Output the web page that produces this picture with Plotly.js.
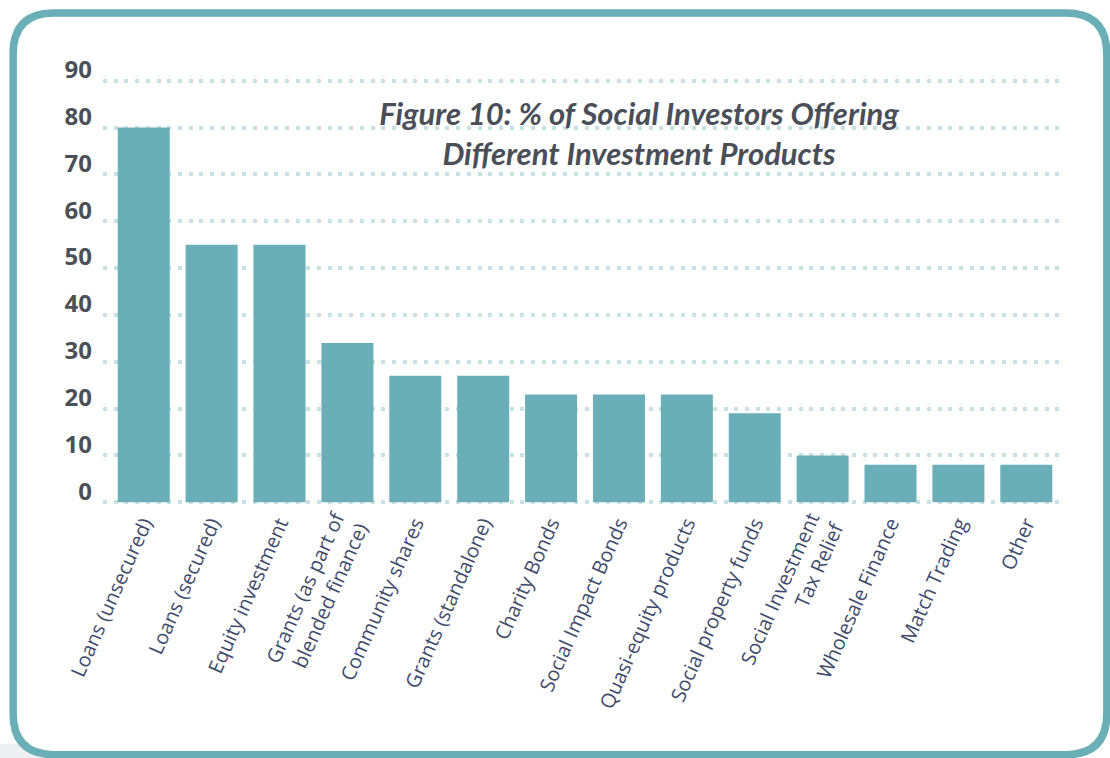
<!DOCTYPE html>
<html>
<head>
<meta charset="utf-8">
<script src="https://cdn.plot.ly/plotly-3.0.1.min.js"></script>
<style>
  html, body { margin: 0; padding: 0; background: #ffffff; }
  #chart { width: 1110px; height: 758px; }
</style>
</head>
<body>
<div id="chart"></div>
<script>
// ---- data ----
const categories = [
  "Loans (unsecured)",
  "Loans (secured)",
  "Equity investment",
  "Grants (as part of<br>blended finance)",
  "Community shares",
  "Grants (standalone)",
  "Charity Bonds",
  "Social Impact Bonds",
  "Quasi-equity products",
  "Social property funds",
  "Social Investment<br>Tax Relief",
  "Wholesale Finance",
  "Match Trading",
  "Other"
];
const percentOffering = [80, 55, 55, 34, 27, 27, 23, 23, 23, 19, 10, 8, 8, 8];
const yTickValues = [0, 10, 20, 30, 40, 50, 60, 70, 80, 90];
const titleText = "Figure 10: % of Social Investors Offering<br>Different Investment Products";

// ---- layout geometry (pixels) ----
const W = 1110, H = 758;
const M = { l: 103.3, r: 45.3, t: 76.3, b: 251.3 };
const PW = W - M.l - M.r, PH = H - M.t - M.b;
function px(x) { return ((x - M.l) / PW).toFixed(5); }
function py(y) { return (1 - (y - M.t) / PH).toFixed(5); }
function pt(x, y) { return px(x) + "," + py(y); }

// rounded card border
const x1 = 13.5, y1 = 13.5, x2 = 1106.5, y2 = 754, r = 41;
const borderPath =
  "M" + pt(x1 + r, y1) +
  " L" + pt(x2 - r, y1) +
  " Q" + pt(x2, y1) + " " + pt(x2, y1 + r) +
  " L" + pt(x2, y2 - r) +
  " Q" + pt(x2, y2) + " " + pt(x2 - r, y2) +
  " L" + pt(x1 + r, y2) +
  " Q" + pt(x1, y2) + " " + pt(x1, y2 - r) +
  " L" + pt(x1, y1 + r) +
  " Q" + pt(x1, y1) + " " + pt(x1 + r, y1) + " Z";

const trace = {
  type: "bar",
  x: categories,
  y: percentOffering,
  marker: { color: "#6aafb7", line: { width: 0 } },
  hoverinfo: "x+y"
};

const layout = {
  width: W,
  height: H,
  margin: M,
  paper_bgcolor: "#ffffff",
  plot_bgcolor: "rgba(0,0,0,0)",
  showlegend: false,
  bargap: 0.234,
  title: {
    text: titleText,
    font: { family: "Lato, 'Open Sans', sans-serif", size: 31, color: "#4a4e57", weight: 700, style: "italic" },
    x: 639 / W,
    xref: "container",
    xanchor: "center",
    y: 1 - 125 / H,
    yref: "container",
    yanchor: "middle"
  },
  xaxis: {
    type: "category",
    range: [-0.6, 13.57],
    showgrid: false,
    showline: false,
    zeroline: false,
    ticks: "",
    tickangle: -66,
    tickfont: { family: "'Open Sans', sans-serif", size: 20, color: "#3f4b6b" },
    fixedrange: true
  },
  yaxis: {
    range: [-1, 91],
    tickvals: yTickValues,
    ticktext: yTickValues.map(String),
    showgrid: true,
    gridcolor: "#c8e1e4",
    gridwidth: 4,
    griddash: "4px,6.7px",
    zeroline: false,
    showline: false,
    ticks: "",
    ticklabelstandoff: 10,
    ticklabelshift: -11,
    tickfont: { family: "'Open Sans', sans-serif", size: 24, color: "#4b4f57", weight: 700 },
    fixedrange: true
  },
  shapes: [
    {
      type: "rect", xref: "paper", yref: "paper", layer: "below",
      x0: px(0), x1: px(70), y0: py(743), y1: py(758),
      fillcolor: "#eeeff1", line: { width: 0 }
    },
    {
      type: "path", xref: "paper", yref: "paper", layer: "below",
      path: borderPath,
      fillcolor: "#ffffff",
      line: { color: "#6aafb7", width: 7.5 }
    }
  ]
};

Plotly.newPlot("chart", [trace], layout, { displayModeBar: false, staticPlot: true });
</script>
</body>
</html>
